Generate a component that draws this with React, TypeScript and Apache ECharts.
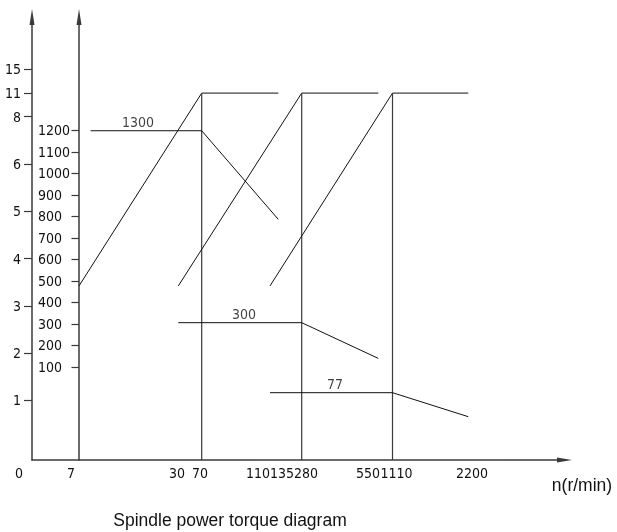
import React, { useEffect, useRef } from "react";
import * as echarts from "echarts";

// ---- data (diagram units; the drawing is schematic) ----
const speedTickLabels = ["7", "30", "70", "110", "135", "280", "550", "1110", "2200"];
const speedTickValues = [3.9, 14.5, 16.8, 22.6, 25.0, 27.4, 33.6, 36.45, 44.0];

const powerTickLabels = ["1", "2", "3", "4", "5", "6", "8", "11", "15"];
const powerTickValues = [1, 2, 3, 4, 5, 6, 7, 7.5, 8];

const torqueTickValues = [100, 200, 300, 400, 500, 600, 700, 800, 900, 1000, 1100, 1200];

// three gear ranges
const powerRiseStartX = [4.7, 14.63, 23.8];
const baseSpeedX = [16.97, 26.97, 36.05]; // 70, 280, 1110 r/min
const maxSpeedX = [24.63, 34.63, 43.63];
const powerRiseStart = [3.42, 3.42, 3.42];
const ratedPower = [7.5, 7.5, 7.5]; // "11" tick level

const torqueStartX = [5.87, 14.63, 23.8];
const constTorque = [1198, 306, -19.4];
const endTorque = [786, 140, -131];
const torqueLabels = ["1300", "300", "77"];
const torqueLabelX = [10.6, 21.2, 30.3];

// axis extents
const X_MIN = 0;
const X_MAX = 53.25;
const P_MIN = -0.2632;
const P_MAX = 9.11;
const T_MIN = -332.2;
const T_MAX = 1726.6;

const NARROW = '"DejaVu Sans Condensed", "Liberation Sans", sans-serif';
const REGULAR = '"Liberation Sans", Arial, sans-serif';
const DIGIT_SIZE = 14;
const AXIS_COLOR = "#3a3a3a";
const LINE_COLOR = "#111";
const TEXT_COLOR = "#111";

function lookup(values: number[], labels: string[]) {
  return (v: number) => {
    const i = values.findIndex((t) => Math.abs(t - v) < 1e-6);
    return i >= 0 ? labels[i] : "";
  };
}

export default function App() {
  const ref = useRef<HTMLDivElement>(null);

  useEffect(() => {
    document.body.style.margin = "0";
    if (!ref.current) return;
    const chart = echarts.init(ref.current, undefined, { renderer: "svg" });

    const lineStyle = { color: LINE_COLOR, width: 1 };
    const series: any[] = [];

    for (let i = 0; i < 3; i++) {
      series.push({
        type: "line",
        name: "power" + i,
        xAxisIndex: 0,
        yAxisIndex: 0,
        symbol: "none",
        lineStyle,
        data: [
          [powerRiseStartX[i], powerRiseStart[i]],
          [baseSpeedX[i], ratedPower[i]],
          [maxSpeedX[i], ratedPower[i]],
        ],
      });
      series.push({
        type: "line",
        name: "base" + i,
        xAxisIndex: 0,
        yAxisIndex: 0,
        symbol: "none",
        lineStyle: { color: AXIS_COLOR, width: 1.2 },
        data: [
          [baseSpeedX[i], P_MIN],
          [baseSpeedX[i], ratedPower[i]],
        ],
      });
      series.push({
        type: "line",
        name: "torque" + i,
        xAxisIndex: 0,
        yAxisIndex: 1,
        symbol: "none",
        lineStyle,
        data: [
          [torqueStartX[i], constTorque[i]],
          [baseSpeedX[i], constTorque[i]],
          [maxSpeedX[i], endTorque[i]],
        ],
      });
    }

    series.push({
      type: "scatter",
      name: "torqueLabels",
      xAxisIndex: 0,
      yAxisIndex: 1,
      symbolSize: 0,
      data: torqueLabelX.map((x, i) => ({ value: [x, constTorque[i]], name: torqueLabels[i] })),
      label: {
        show: true,
        position: "inside",
        offset: [0, -9],
        formatter: (p: any) => p.name,
        fontFamily: NARROW,
        fontSize: DIGIT_SIZE,
        color: TEXT_COLOR,
      },
    });

    const axisLine = (size: number[]) => ({
      show: true,
      onZero: false,
      symbol: ["none", "triangle"],
      symbolSize: size,
      lineStyle: { color: AXIS_COLOR, width: 1.5 },
    });

    chart.setOption({
      animation: false,
      grid: { left: 32, right: 52.5, top: 17, bottom: 72, containLabel: false, outerBoundsMode: "none" },
      xAxis: {
        type: "value",
        min: X_MIN,
        max: X_MAX,
        axisLine: axisLine([5, 15]),
        axisTick: { show: false },
        splitLine: { show: false },
        axisLabel: {
          customValues: speedTickValues,
          formatter: lookup(speedTickValues, speedTickLabels),
          margin: 6,
          fontFamily: NARROW,
          fontSize: DIGIT_SIZE,
          color: TEXT_COLOR,
        },
      },
      yAxis: [
        {
          type: "value",
          position: "left",
          min: P_MIN,
          max: P_MAX,
          axisLine: axisLine([5, 16]),
          axisTick: { show: true, customValues: powerTickValues, length: 8, lineStyle: { color: AXIS_COLOR, width: 1.2 } },
          splitLine: { show: false },
          axisLabel: {
            customValues: powerTickValues,
            formatter: lookup(powerTickValues, powerTickLabels),
            margin: 11,
            fontFamily: NARROW,
            fontSize: DIGIT_SIZE,
            color: TEXT_COLOR,
          },
        },
        {
          type: "value",
          position: "left",
          offset: -47,
          min: T_MIN,
          max: T_MAX,
          axisLine: axisLine([5, 16]),
          axisTick: { show: true, customValues: torqueTickValues, length: 7.5, lineStyle: { color: AXIS_COLOR, width: 1.2 } },
          splitLine: { show: false },
          axisLabel: {
            customValues: torqueTickValues,
            formatter: (v: number) => String(Math.round(v)),
            margin: 41,
            align: "left",
            fontFamily: NARROW,
            fontSize: DIGIT_SIZE,
            color: TEXT_COLOR,
          },
        },
      ],
      graphic: [
        {
          type: "text",
          x: 19,
          y: 473,
          style: { text: "0", fontFamily: NARROW, fontSize: DIGIT_SIZE, fill: TEXT_COLOR, align: "center", verticalAlign: "middle" },
        },
        {
          type: "text",
          x: 582,
          y: 485,
          style: { text: "n(r/min)", fontFamily: REGULAR, fontSize: 17.5, fill: TEXT_COLOR, align: "center", verticalAlign: "middle" },
        },
        {
          type: "text",
          x: 230,
          y: 520,
          style: {
            text: "Spindle power torque diagram",
            fontFamily: REGULAR,
            fontSize: 17.5,
            fill: TEXT_COLOR,
            align: "center",
            verticalAlign: "middle",
          },
        },
      ],
      series,
    });

    return () => chart.dispose();
  }, []);

  return <div ref={ref} style={{ position: "fixed", left: 0, top: 0, width: 617, height: 532 }} />;
}
